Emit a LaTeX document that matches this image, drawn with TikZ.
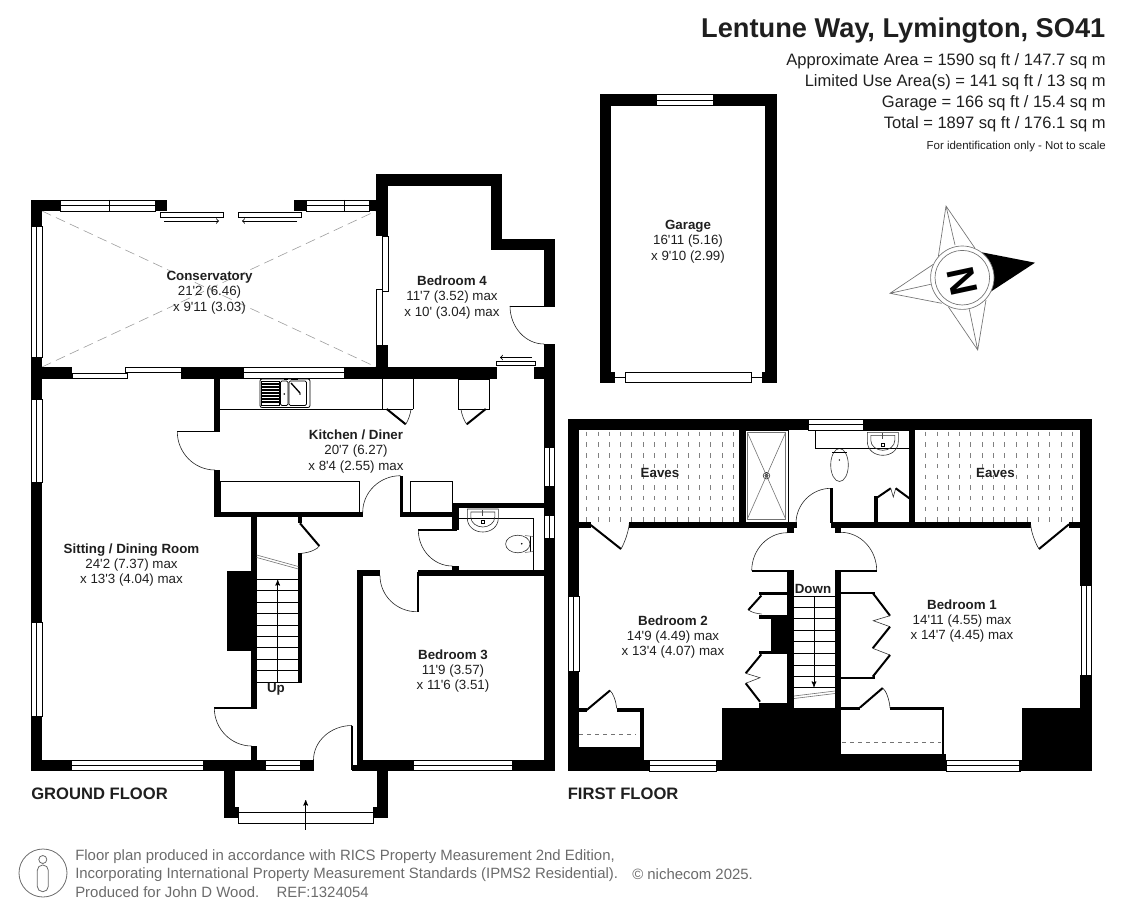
\documentclass[tikz,border=0pt]{standalone}
\usepackage{fontspec}
\newfontfamily\fpsans{Liberation Sans}
\usetikzlibrary{arrows,calc}
\definecolor{fp_ink}{gray}{0.12}
\definecolor{fp_foot}{gray}{0.42}
\tikzset{
  fp_wall/.style = {fill=black, draw=none},
  fp_win/.style = {draw=black, fill=white, line width=.6pt},
  fp_line/.style = {draw=black, line width=.6pt},
  fp_arc/.style = {draw=black!85, line width=.45pt},
  fp_leaf/.style = {draw=black, line width=1.5pt},
  fp_grey/.style = {draw=black!55, line width=.45pt},
  fp_roof/.style = {draw=black!38, line width=.45pt, dash pattern=on 7.5pt off 4pt},
  fp_room/.style = {align=center, inner sep=0pt, text=fp_ink, yshift=-1.1pt,
    font=\fpsans\fontsize{10}{11.5}\selectfont},
  fp_tag/.style = {inner sep=0pt, text=fp_ink,
    font=\fpsans\bfseries\fontsize{10}{11.5}\selectfont},
  fp_floor/.style = {anchor=west, inner sep=0pt, text=fp_ink,
    font=\fpsans\bfseries\fontsize{12.45}{14}\selectfont},
  fp_area/.style = {anchor=east, inner sep=0pt, text=fp_ink,
    font=\fpsans\fontsize{12.4}{14}\selectfont},
  fp_foot/.style = {anchor=west, inner sep=0pt, text=fp_foot,
    font=\fpsans\fontsize{11.2}{13}\selectfont}
}
\newcommand{\fpwl}[4]{\fill[fp_wall] (#1,#2) rectangle (#3,#4);}
\newcommand{\fpwinh}[4]{\draw[fp_win] (#1,#2) rectangle (#3,#4);
  \draw[fp_line] ($(#1,#2)!.5!(#1,#4)$) -- ($(#3,#2)!.5!(#3,#4)$);}
\newcommand{\fpwinv}[4]{\draw[fp_win] (#1,#2) rectangle (#3,#4);
  \draw[fp_line] ($(#1,#2)!.5!(#3,#2)$) -- ($(#1,#4)!.5!(#3,#4)$);}
\newcommand{\fpswing}[3]{\draw[fp_arc] (#1) .. controls ($(#1)!.55!(#3)$) and ($(#2)!.55!(#3)$) .. (#2);}
\newcommand{\fpbasin}[2]{\begin{scope}[shift={(#1,#2)}]
  \draw[fp_grey,draw=black!80] (-15.5,0) -- (-15.5,9) .. controls (-15.5,18) and (-8,23) .. (0,23)
    .. controls (8,23) and (15.5,18) .. (15.5,9) -- (15.5,0) -- cycle;
  \draw[fp_grey,draw=black!80] (-12,3) -- (-12,8) .. controls (-12,14) and (-6,18) .. (0,18)
    .. controls (6,18) and (12,14) .. (12,8) -- (12,3) -- cycle;
  \draw[draw=black!70,line width=1pt] (0,1) -- (0,7);
  \draw[fp_line] (-1.3,11.5) rectangle (1.3,14);
  \end{scope}}

\begin{document}
\begin{tikzpicture}[x=.75pt,y=-.75pt,>=stealth']
  \useasboundingbox (0,0) rectangle (1123,916);

  % conservatory and left side
  \draw[fp_roof] (42,211) -- (376,367);
  \draw[fp_roof] (42,367) -- (376,211);
  \fpwl{31}{200}{60}{211}
  \fpwl{31}{200}{42}{226}
  \fpwl{155}{200}{167}{211}
  \fpwl{294}{200}{306}{211}
  \fpwl{369}{200}{377}{211}
  \fpwl{31}{357}{42}{399}
  \fpwl{31}{367}{72}{379}
  \fpwl{181}{367}{243.5}{379}
  \fpwl{344}{367}{497}{379}
  \fpwl{534}{367}{555}{379}
  \fpwl{31}{482}{42}{622}
  \fpwl{31}{716}{42}{770.5}
  \fpwinh{60}{200}{155}{211}
  \draw[fp_line] (109.5,200) -- (109.5,211);
  \fpwinh{306}{200}{369}{211}
  \draw[fp_line] (344.5,200) -- (344.5,211);
  \fpwinv{31.5}{226}{42}{357}
  \fpwinv{31.5}{399}{42}{482}
  \fpwinv{31.5}{622}{42}{716}
  \draw[fp_win] (160.5,212.5) rectangle (223.5,217.5);
  \draw[fp_win] (238.5,212.5) rectangle (301.5,217.5);
  \draw[fp_line,-to] (164,221) -- (219,221);
  \draw[fp_line,-to] (297,221) -- (242,221);
  \draw[fp_win] (72,373.5) rectangle (127.5,378.5);
  \draw[fp_win] (125.5,367.5) rectangle (181,372.5);
  \fpwinh{243.5}{367.2}{344}{378.5}

  % bedroom 4
  \fpwl{376}{174}{502}{186}
  \fpwl{376}{174}{388}{236}
  \fpwl{491}{174}{502}{250}
  \fpwl{491}{239}{555}{250}
  \fpwl{544}{239}{555}{306.5}
  \fpwl{376}{345}{388}{379}
  \draw[fp_win] (382.5,236) rectangle (388,291.5);
  \draw[fp_win] (376.5,289.5) rectangle (382,345);
  \draw[fp_line] (510,306) -- (544,306);
  \fpswing{510,306}{544,344}{510,344}
  \draw[fp_win] (496.5,361.5) rectangle (535.5,365.5);
  \draw[fp_line,-to] (532,357.5) -- (500,357.5);

  % right side and bottom of the ground floor
  \fpwl{544}{344}{555}{447}
  \fpwl{544}{486}{555}{515}
  \fpwl{544}{538}{555}{770.5}
  \fpwinv{544}{447}{554.5}{486}
  \fpwinv{544}{515}{554.5}{538}
  \fpwl{31}{760}{71}{770.5}
  \fpwinh{71}{760}{203.5}{770.5}
  \fpwl{203.5}{760}{265}{770.5}
  \fpwinh{265}{760}{300.5}{770.5}
  \fpwl{300.5}{760}{313.5}{770.5}
  \fpwl{352}{765}{413}{770.5}
  \fpwl{357}{760}{413}{770.5}
  \fpwinh{413}{760}{512.5}{770.5}
  \fpwl{512.5}{760}{555}{770.5}
  \fpswing{313.5,760}{352,725.5}{313.5,725.5}
  \fpwl{350.8}{725.5}{352.8}{770}

  % porch
  \fpwl{224}{770}{234.5}{817.5}
  \fpwl{224}{806.5}{238.7}{817.5}
  \fpwl{377}{770}{387.5}{817.5}
  \fpwl{373}{806.5}{387.5}{817.5}
  \draw[fp_win] (238.7,812.3) rectangle (373,823.3);
  \draw[fp_line,->] (305.7,829.5) -- (305.7,800);

  % kitchen
  \fpwl{214.3}{379}{220}{431.8}
  \draw[fp_line] (177.3,431.7) -- (214.3,431.7);
  \fpswing{177.3,431.7}{215,470}{177.3,470}
  \fpwl{214.3}{470}{220}{517.3}
  \fpwl{214.3}{512.3}{362.7}{517.3}
  \draw[fp_line] (220,481.3) rectangle (359.3,512.3);
  \fpswing{362.7,512.3}{400.5,475.7}{362.7,475.7}
  \fpwl{400}{475.7}{402.7}{517.3}
  \fpwl{401}{512.3}{459}{517.3}
  \draw[fp_line] (410.7,481.3) rectangle (452.3,512.3);
  \draw[fp_line] (220,409.3) -- (413.3,409.3);
  \draw[fp_line] (382.3,379) -- (382.3,409.3);
  \draw[fp_line] (413.3,379) -- (413.3,409.3);
  \draw[fp_line] (458.3,379) rectangle (489.3,409.3);
  \draw[fp_leaf] (386.7,409) -- (405.7,424.3);
  \fpswing{405.7,424.3}{411,409.3}{410,418}
  \draw[fp_leaf] (485.7,409) -- (466.7,424.3);
  \fpswing{466.7,424.3}{461,409.3}{462,418}

  % kitchen sink
  \draw[fp_line,rounded corners=1.5pt,fill=white] (260,379) rectangle (310,407.5);
  \draw[fp_line] (261.7,381) rectangle (279,405.5);
  \foreach \yy in {384,387,390,393,396,399,402} {
    \draw[draw=black,line width=.9pt] (262,\yy) -- (279,\yy);
  }
  \draw[fp_line,rounded corners=1pt] (280.5,381) rectangle (288,405.5);
  \draw[fp_line,rounded corners=1pt] (289,381) rectangle (306.5,405.5);
  \fill[black] (284.2,394) circle (.9) (300,394) circle (.9);
  \draw[draw=black,line width=1pt] (291,383) -- (300,393);
  \draw[draw=black,line width=1pt] (284,379.8) -- (288,379.8) (291,379.8) -- (298,379.8);

  % cloakroom
  \fpwl{452.3}{503.3}{544}{508.3}
  \fpwl{452.3}{503.3}{459}{530}
  \draw[fp_line,line width=1.2pt] (418.3,530) -- (457,530);
  \fpswing{418.3,530}{452.3,566}{418.3,566}
  \fpwl{452.3}{566}{459}{575.5}
  \fpwl{418.3}{569.5}{544}{575.7}
  \draw[fp_line] (459,518.3) -- (533.3,518.3) -- (533.3,569.5);
  \fpbasin{482.8}{509}
  \draw[fp_grey,draw=black!80] (517.8,544) ellipse [x radius=12.2,y radius=8.8];
  \draw[fp_line] (530,536) -- (530,552);
  \draw[fp_grey] (525,535.5) -- (533,536.5) (525,552.5) -- (533,551.5);
  \fill[black] (521.7,543.7) circle (.9);

  % bedroom 3
  \fpwl{356.7}{569.5}{380}{575.7}
  \fpwl{356.7}{569.5}{362.7}{770}
  \fpswing{380,575.7}{416.7,611.7}{380,611.7}
  \fpwl{416.7}{572}{419}{611.7}

  % hall and stairs
  \fpwl{251}{517}{256.7}{708.5}
  \draw[fp_line,line width=1pt] (214.3,708) -- (253,708);
  \fpswing{214.3,708}{251.7,746}{214.3,746}
  \fpwl{251}{746}{256.7}{760}
  \fpwl{227}{571}{251}{651}
  \fpwl{298.3}{553.3}{301.7}{682.7}
  \fpwl{298.3}{517}{301.7}{523.3}
  \draw[fp_leaf] (300,523.3) -- (319.3,546);
  \fpswing{319.3,546}{301.7,553.3}{316,552}
  \draw[fp_grey] (256.7,555) -- (298.3,566.5) (256.7,557.5) -- (298.3,569);
  \foreach \yy in {579.3,590.7,602,613.5,625,636.3,647.7,659,670.3,682} {
    \draw[fp_line] (256.7,\yy) -- (298.3,\yy);
  }
  \draw[fp_line,->] (277.7,682) -- (277.7,580);

  % garage
  \fpwl{600}{94}{777}{105.7}
  \fpwl{600}{94}{611}{382.7}
  \fpwl{765}{94}{777}{382.7}
  \fpwl{600}{371.7}{615}{382.7}
  \fpwl{761.7}{371.7}{777}{382.7}
  \fpwinh{656.7}{94.5}{713.3}{105.7}
  \draw[fp_line] (615,377.3) -- (625.3,377.3) (751.7,377.3) -- (761.7,377.3);
  \draw[fp_win] (625.3,372.3) rectangle (751.7,382.3);

  % first floor shell
  \foreach \xx in {0,...,13} {
    \foreach \yy in {0,...,8} {
      \draw[draw=black!50,line width=.5pt] ($(586.7,431.7)+(11.27*\xx,10.7*\yy)$) -- ++(0,4.4);
      \draw[draw=black!50,line width=.5pt] ($(925.7,431.7)+(11.27*\xx,10.7*\yy)$) -- ++(0,4.4);
    }
  }
  \fpwl{567.7}{419}{808}{430}
  \fpwl{863}{419}{1091.7}{430}
  \fpwl{567.7}{419}{579}{596}
  \fpwl{567.7}{671}{579}{771}
  \fpwl{1080.3}{419}{1091.7}{585.7}
  \fpwl{1080.3}{675}{1091.7}{771}
  \fpwinh{808}{419.5}{863}{430}
  \fpwinv{568}{596}{579}{671}
  \fpwinv{1081}{585.7}{1091.5}{675}

  % first floor bottom blocks
  \fpwl{567.7}{746.7}{644}{771}
  \fpwl{567.7}{708.3}{586.7}{711.7}
  \fpwl{616.7}{708.3}{644}{711.7}
  \fpwl{640.3}{708.3}{644}{771}
  \fpwl{644}{760}{649}{771}
  \draw[fp_leaf] (586.7,710) -- (610,690.5);
  \fpswing{610,690.5}{616.7,708.3}{615.5,695}
  \draw[fp_grey,dashed] (579,734) -- (636,734);
  \fpwinh{649}{760.5}{716.7}{771}
  \fpwl{716.7}{760}{723}{771}
  \fpwl{722.3}{708.3}{840.7}{771}
  \fill[white] (793.7,596) rectangle (835,707.7);
  \fpwl{840.7}{754}{946}{771}
  \fpwl{840.7}{706.5}{860}{709.5}
  \fpwl{890}{706.5}{944}{709.5}
  \fpwl{941.7}{706.5}{944}{771}
  \draw[fp_leaf] (860,707.5) -- (882.7,688);
  \fpswing{882.7,688}{890,708}{889,693}
  \draw[fp_grey,dashed] (842,742.3) -- (941,742.3);
  \fpwinh{946}{760.5}{1020}{771}
  \fpwl{1021.5}{707.7}{1091.7}{771}
  \fpwl{1019}{760}{1022}{771}

  % first floor middle walls
  \fpwl{579}{522}{590.7}{528.3}
  \draw[fp_leaf] (590.7,525) -- (621,549);
  \fpswing{621,549}{629.3,523}{628.5,536}
  \fpwl{629.3}{522}{796.7}{528.3}
  \fpwl{831}{522}{1030.5}{528.3}
  \fpwl{1069}{522}{1081}{528.3}
  \draw[fp_leaf] (1069,524.3) -- (1039,549);
  \fpswing{1039,549}{1030.7,525}{1031.5,537}
  \fpswing{796,523.3}{831,488.3}{796,488.3}
  \fpwl{830}{488.3}{832.7}{523}
  \fpwl{787.3}{528}{794}{533.3}
  \fpswing{787.3,532.7}{751.7,570.7}{751.7,532.7}
  \fpwl{751.7}{569.7}{794}{571.7}
  \fpwl{787.3}{570.7}{794}{708.5}
  \fpwl{835}{528}{840.7}{533.3}
  \fpswing{840.7,532.3}{876.7,570.7}{876.7,532.3}
  \fpwl{835}{569.7}{876.7}{571.7}
  \fpwl{835}{570.7}{840.7}{708.5}

  % shower
  \fpwl{739.3}{430}{745}{522}
  \draw[fp_line] (745,430) rectangle (788.3,522);
  \draw[fp_grey] (747.3,432.3) rectangle (785.7,519);
  \draw[fp_grey] (747.3,432.3) -- (785.7,519) (785.7,432.3) -- (747.3,519);
  \draw[fp_grey,draw=black!80] (766.5,475.7) circle (3.3);
  \draw[fp_grey,draw=black!80] (766.5,475.7) circle (1.6);

  % bathroom
  \fpwl{909.3}{430}{915}{522}
  \draw[fp_line] (815.3,430) rectangle (909.3,448.3);
  \fpbasin{882.8}{432.3}
  \draw[fp_grey,draw=black!80,fill=white] (839.5,465) ellipse [x radius=8.8,y radius=16.5];
  \draw[fp_line] (832,452.3) -- (847,452.3);
  \draw[fp_line] (830.7,448.3) -- (848.3,448.3);
  \fill[black] (839.3,460) circle (.8);
  \fpwl{874}{496}{878.3}{522}
  \draw[fp_leaf] (876.5,498) -- (890.7,488.3);
  \draw[fp_grey,draw=black!80] (890.7,488.3) -- (893.3,497) -- (895.7,488.3);
  \draw[fp_leaf] (895.7,488.3) -- (909.3,498.3);

  % wardrobes bedroom 1
  \fpwl{840.7}{591.7}{875}{594}
  \draw[fp_leaf] (873,593.3) -- (890,615.7);
  \draw[fp_grey,draw=black!80] (890,615.7) -- (873.3,620.7) -- (890,626.7);
  \draw[fp_leaf] (890,626.7) -- (872.7,648.3);
  \draw[fp_grey,draw=black!80] (872.7,648.3) -- (890,655);
  \draw[fp_leaf] (890,655) -- (872.7,676.7);
  \fpwl{840.7}{677}{875}{679.3}
  \fpwl{872.7}{674.5}{875}{679.3}

  % wardrobes bedroom 2
  \fpwl{759.3}{592.3}{787.3}{595}
  \draw[fp_leaf] (761.3,595.5) -- (748.3,610);
  \draw[fp_grey,draw=black!80] (748.3,610) .. controls (753,613) and (757,613.5) .. (761.7,614);
  \fpwl{759.3}{615}{770.7}{619}
  \fpwl{770.7}{615}{787.3}{654}
  \fpwl{759.3}{650.7}{770.7}{654.3}
  \draw[fp_leaf] (761.3,654.3) -- (745.7,673.3);
  \draw[fp_grey,draw=black!80] (745.7,673.3) -- (760,677.7) -- (745.7,683.3);
  \draw[fp_leaf] (745.7,683.3) -- (760,701.7);
  \fpwl{759.3}{702.7}{787.3}{708.5}

  % first floor stairs
  \foreach \yy in {596.7,607.3,618.7,630.3,641.7,653.3,665,676.7,687.3} {
    \draw[fp_line] (794,\yy) -- (835,\yy);
  }
  \draw[fp_line,->] (814,597) -- (814,687);
  \draw[fp_grey] (794,698.5) -- (835,693.5) (794,696) -- (835,691);

  % room labels
  \node[fp_room] (lbl_cons) at (209.5,291) {\bfseries Conservatory\\21'2 (6.46)\\x 9'11 (3.03)};
  \node[fp_room] (lbl_bed4) at (452,296) {\bfseries Bedroom 4\\11'7 (3.52) max\\x 10' (3.04) max};
  \node[fp_room] (lbl_kit) at (356,450) {\bfseries Kitchen / Diner\\20'7 (6.27)\\x 8'4 (2.55) max};
  \node[fp_room] (lbl_sit) at (131.5,563.5) {\bfseries Sitting / Dining Room\\24'2 (7.37) max\\x 13'3 (4.04) max};
  \node[fp_room] (lbl_bed3) at (453,669.5) {\bfseries Bedroom 3\\11'9 (3.57)\\x 11'6 (3.51)};
  \node[fp_room] (lbl_bed2) at (673,635.5) {\bfseries Bedroom 2\\14'9 (4.49) max\\x 13'4 (4.07) max};
  \node[fp_room] (lbl_bed1) at (962,619.5) {\bfseries Bedroom 1\\14'11 (4.55) max\\x 14'7 (4.45) max};
  \node[fp_room] (lbl_gar) at (688,240) {\bfseries Garage\\16'11 (5.16)\\x 9'10 (2.99)};
  \node[fp_tag] (lbl_eav_a) at (660,473) {Eaves};
  \node[fp_tag] (lbl_eav_b) at (995.5,473) {Eaves};
  \node[fp_tag] (lbl_up) at (276,689.5) {Up};
  \node[fp_tag] (lbl_down) at (813,588.5) {Down};
  \node[fp_floor] (lbl_gf) at (31,794) {GROUND FLOOR};
  \node[fp_floor] (lbl_ff) at (567.5,794) {FIRST FLOOR};

  % heading
  \node[anchor=east,inner sep=0pt,text=fp_ink,font=\fpsans\bfseries\fontsize{20.4}{25}\selectfont] (title) at (1105.5,31) {Lentune Way, Lymington, SO41};
  \node[fp_area] (area_a) at (1106,61) {Approximate Area = 1590 sq ft / 147.7 sq m};
  \node[fp_area] (area_b) at (1106,82.5) {Limited Use Area(s) = 141 sq ft / 13 sq m};
  \node[fp_area] (area_c) at (1106,103.5) {Garage = 166 sq ft / 15.4 sq m};
  \node[fp_area] (area_d) at (1106,124.5) {Total = 1897 sq ft / 176.1 sq m};
  \node[anchor=east,inner sep=0pt,text=fp_ink,font=\fpsans\fontsize{8.6}{10}\selectfont] (note) at (1106,147) {For identification only - Not to scale};

  % compass
  \begin{scope}[fp_grey/.append style={line width=.5pt}]
    \draw[fp_grey] (938.3,256.7) -- (946,206) -- (975,248.3) (946,206) -- (955,245);
    \draw[fp_grey] (948.3,306.7) -- (977.7,350) -- (986,300) (977.7,350) -- (969.3,309.3);
    \draw[fp_grey] (933.3,264.3) -- (890,293.3) -- (941.7,303.3) (890,293.3) -- (930.7,284.3);
    \fill[black] (981.7,252.3) -- (1035,262.7) -- (990.7,291.7) -- cycle;
    \draw[fp_grey,fill=white] (962.3,277.7) circle (31.7);
    \draw[fp_grey] (962.3,277.7) circle (27.3);
  \end{scope}
  \node[inner sep=0pt,rotate=-78,font=\fpsans\bfseries\fontsize{29}{29}\selectfont] (compass_n) at (962.5,281) {N};

  % footer
  \draw[draw=fp_foot,line width=.6pt] (43,873) circle (24);
  \draw[draw=fp_foot,line width=.6pt] (42.8,859.5) circle (4);
  \draw[draw=fp_foot,line width=.6pt,rounded corners=4pt] (37.3,865) rectangle (48.3,891.7);
  \node[fp_foot] (foot_a) at (75,856.5) {Floor plan produced in accordance with RICS Property Measurement 2nd Edition,};
  \node[fp_foot] (foot_b) at (75,874.5) {Incorporating International Property Measurement Standards (IPMS2 Residential).};
  \node[fp_foot] (foot_c) at (75,892.5) {Produced for John D Wood.\hspace{13pt}REF:1324054};
  \node[fp_foot] (foot_d) at (632,874.5) {\textcopyright\ nichecom 2025.};
\end{tikzpicture}
\end{document}
